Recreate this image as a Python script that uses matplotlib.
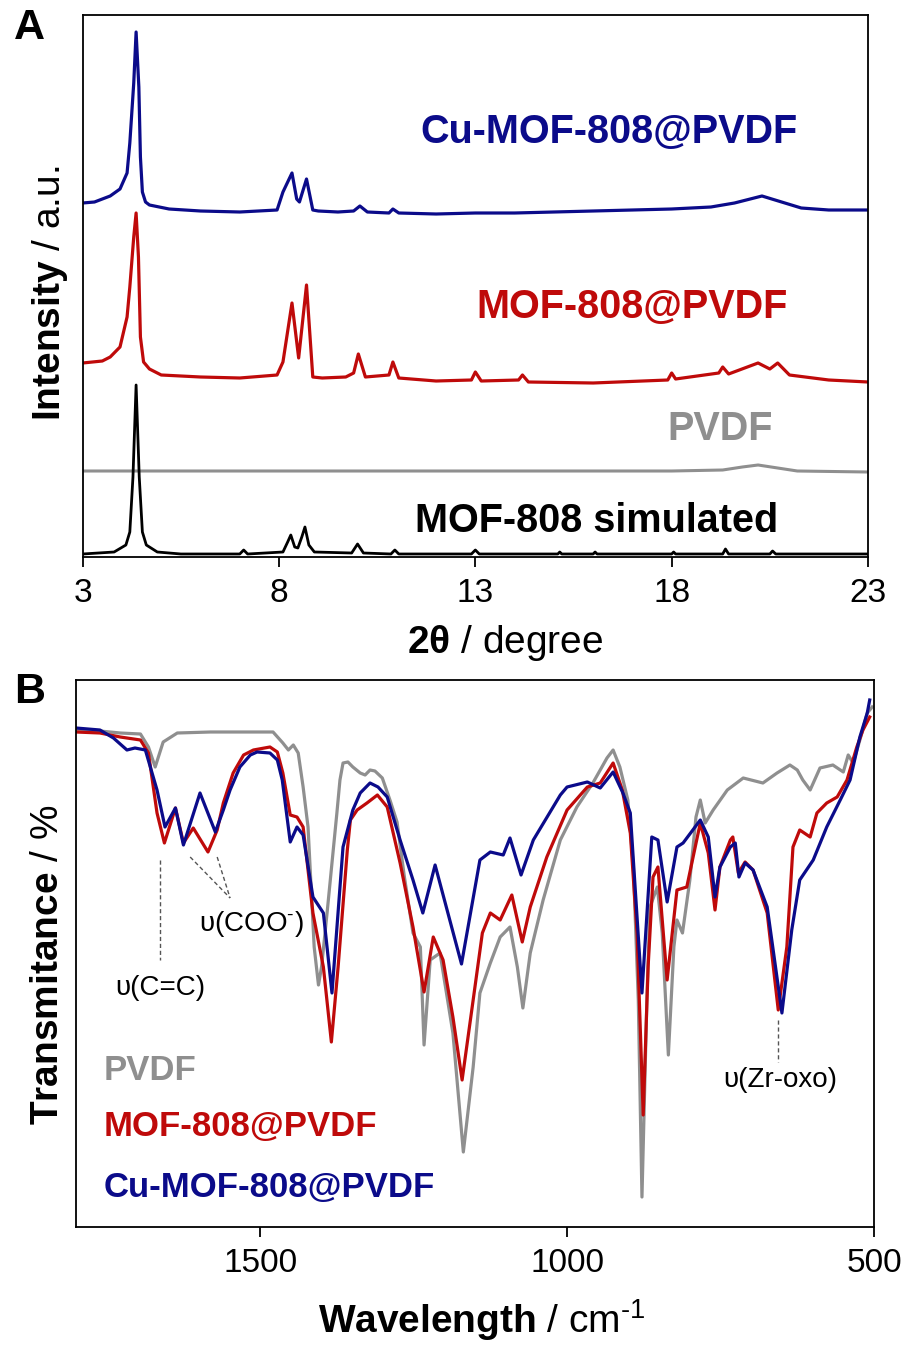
import matplotlib
matplotlib.use("Agg")
from matplotlib import pyplot as plt

plt.rcParams['font.family'] = ['Liberation Sans', 'DejaVu Sans']
plt.rcParams['mathtext.fontset'] = 'custom'
plt.rcParams['mathtext.rm'] = 'Liberation Sans'
plt.rcParams['mathtext.bf'] = 'Liberation Sans:bold'
plt.rcParams['mathtext.it'] = 'Liberation Sans:italic'
plt.rcParams['mathtext.sf'] = 'Liberation Sans'

BLUE = '#0b0b8a'
RED = '#bf0a0a'
GRAY = '#8f8f8f'

# ---- panel A: XRD (2theta, intensity a.u.) ----
xrd_cu_x = [3.0, 3.3, 3.7, 3.95, 4.13, 4.2, 4.3, 4.36, 4.43, 4.47, 4.52, 4.6, 4.7, 5.2, 6.0,
            7.0, 7.95, 8.1, 8.33, 8.45, 8.52, 8.7, 8.86, 9.0, 9.5, 9.9, 10.06, 10.25, 10.8,
            10.9, 11.05, 12.0, 13.0, 14.0, 15.0, 16.0, 17.0, 18.0, 19.0, 19.6, 20.3, 20.8,
            21.3, 22.0, 23.0]
xrd_cu_y = [354, 355, 361, 368, 384, 414, 474, 525, 470, 400, 365, 355, 352, 348, 346,
            345, 347, 365, 384, 358, 355, 378, 347, 346, 345, 346, 351, 345, 344,
            348, 344, 343, 344, 344, 345, 346, 347, 348, 350, 354, 361, 355,
            349, 347, 347]

xrd_mof_x = [3.0, 3.5, 3.7, 3.95, 4.13, 4.2, 4.3, 4.36, 4.42, 4.47, 4.55, 4.7, 5.0, 6.0, 7.0,
             7.95, 8.1, 8.33, 8.5, 8.7, 8.86, 9.1, 9.7, 9.9, 10.02, 10.2, 10.8, 10.9, 11.05,
             12.0, 12.9, 13.0, 13.15, 14.1, 14.2, 14.35, 16.0, 17.9, 18.0, 18.1, 19.2, 19.3,
             19.45, 20.2, 20.5, 20.7, 21.0, 22.0, 23.0]
xrd_mof_y = [194, 196, 200, 210, 240, 270, 320, 344, 300, 220, 195, 188, 182, 180, 179,
             182, 195, 254, 199, 272, 180, 179, 180, 184, 203, 180, 182, 195, 179,
             176, 177, 185, 176, 177, 182, 175, 174, 177, 184, 178, 184, 190,
             183, 194, 188, 194, 182, 177, 175]

xrd_pvdf_x = [3.0, 8.0, 13.0, 18.0, 19.3, 19.8, 20.2, 20.7, 21.2, 23.0]
xrd_pvdf_y = [86, 86, 86, 86, 87, 90, 92, 89, 86, 85]

xrd_sim_x = [3.0, 3.8, 4.1, 4.2, 4.28, 4.36, 4.44, 4.52, 4.62, 4.9, 5.5, 7.0, 7.1, 7.2,
             8.1, 8.22, 8.3, 8.4, 8.48, 8.58, 8.66, 8.76, 8.9, 9.85, 10.0, 10.15, 10.85,
             10.95, 11.05, 12.9, 13.0, 13.1, 15.1, 15.15, 15.2, 16.0, 16.05, 16.1, 18.0,
             18.05, 18.1, 19.3, 19.37, 19.45, 20.5, 20.57, 20.65, 23.0]
xrd_sim_y = [3, 5, 12, 25, 80, 172, 80, 25, 12, 5, 3, 3, 7, 3,
             5, 15, 22, 10, 9, 20, 30, 12, 5, 4, 13, 4, 3,
             7, 3, 3, 7, 3, 3, 5, 3, 3, 5, 3, 3,
             5, 3, 3, 8, 3, 3, 6, 3, 3]

xrd_ticks = [3, 8, 13, 18, 23]

# ---- panel B: IR (wavenumber cm-1, transmittance a.u.) ----
ir_pvdf = [(1800, 497), (1761, 496), (1728, 494), (1695, 493), (1682, 480), (1671, 460),
           (1658, 485), (1635, 494), (1581, 495), (1479, 495), (1463, 484), (1454, 477),
           (1446, 482), (1438, 474), (1430, 440), (1422, 400), (1412, 280), (1405, 242),
           (1400, 260), (1391, 314), (1375, 414), (1370, 447), (1365, 464), (1357, 465),
           (1349, 460), (1337, 454), (1329, 452), (1321, 457), (1313, 456), (1301, 449),
           (1288, 426), (1277, 405), (1265, 350), (1251, 294), (1239, 280),
           (1233, 182), (1223, 267), (1207, 274), (1186, 194), (1169, 75), (1153, 160),
           (1142, 234), (1125, 264), (1109, 290), (1093, 300), (1081, 260), (1072, 219),
           (1060, 274), (1039, 327), (1011, 387), (984, 420), (958, 444), (946, 457),
           (935, 469), (925, 477), (914, 460), (901, 427), (892, 360), (884, 227),
           (878, 30), (870, 227), (865, 320), (853, 340), (845, 294), (835, 172),
           (826, 280), (821, 307), (812, 294), (800, 347), (790, 410), (783, 427),
           (775, 404), (762, 417), (739, 437), (713, 449), (681, 444), (658, 454),
           (637, 462), (625, 457), (616, 447), (604, 437), (588, 459), (567, 462),
           (550, 455), (542, 472), (534, 464), (523, 487), (511, 514), (503, 520)]

ir_mof = [(1800, 495), (1761, 494), (1728, 490), (1695, 487), (1682, 474), (1668, 414),
          (1656, 384), (1638, 419), (1625, 384), (1609, 399), (1585, 375), (1570, 397),
          (1560, 424), (1544, 454), (1527, 472), (1511, 477), (1484, 480), (1472, 475),
          (1463, 454), (1451, 412), (1440, 410), (1430, 400), (1414, 314), (1397, 260),
          (1384, 185), (1373, 260), (1358, 377), (1353, 407), (1342, 417), (1326, 424),
          (1309, 432), (1293, 420), (1272, 364),
          (1251, 300), (1233, 235), (1218, 290), (1202, 267), (1186, 210), (1171, 147),
          (1153, 227), (1138, 294), (1125, 314), (1109, 307), (1090, 332), (1073, 285),
          (1060, 320), (1033, 370), (1000, 417), (967, 440), (946, 444), (925, 464),
          (910, 437), (897, 394), (886, 294), (876, 112), (868, 260), (860, 350),
          (852, 360), (837, 247), (821, 337), (805, 340), (783, 404), (770, 374),
          (759, 317), (751, 360), (734, 387), (730, 390), (721, 354), (710, 365),
          (697, 357), (674, 314), (656, 217), (642, 280), (632, 380), (621, 397),
          (604, 390), (593, 414), (577, 424), (560, 430), (544, 447), (528, 480),
          (518, 497), (507, 510)]

ir_cu = [(1800, 499), (1761, 497), (1739, 489), (1717, 477), (1704, 479), (1687, 477),
         (1668, 437), (1655, 400), (1638, 419), (1625, 382), (1598, 434), (1573, 395),
         (1560, 417), (1549, 437), (1533, 460), (1516, 472), (1505, 475), (1484, 474),
         (1472, 467), (1464, 447), (1451, 385),
         (1440, 400), (1430, 392), (1414, 330), (1397, 314), (1383, 234), (1365, 380),
         (1349, 417), (1337, 434), (1321, 444), (1308, 440), (1293, 430), (1272, 387),
         (1251, 347), (1235, 314),
         (1215, 362), (1172, 263), (1142, 367), (1125, 375), (1104, 372), (1093, 389),
         (1075, 352), (1055, 387), (1011, 432), (1000, 440), (967, 445), (946, 439),
         (925, 455), (909, 434), (897, 414), (878, 234), (862, 390), (852, 387),
         (837, 325), (821, 380), (811, 384), (783, 407), (770, 390), (759, 330),
         (751, 360), (734, 380), (726, 384), (720, 350), (710, 364), (697, 357),
         (674, 320), (650, 214), (634, 297), (621, 347), (599, 367), (577, 400),
         (555, 427), (539, 447), (523, 490), (511, 514), (507, 527)]

ir_ticks = [1500, 1000, 500]


def fx(px):
    return px / 918.0


def fy(py):
    return 1 - py / 1358.0


fig = plt.figure(figsize=(9.18, 13.58), dpi=100)

# ---------------- panel A ----------------
axA = fig.add_axes([fx(82.7), fy(557), fx(868) - fx(82.7), fy(15) - fy(557)])
axA.plot(xrd_pvdf_x, xrd_pvdf_y, color=GRAY, lw=2.2)
axA.plot(xrd_sim_x, xrd_sim_y, color='black', lw=2.0)
axA.plot(xrd_mof_x, xrd_mof_y, color=RED, lw=2.3)
axA.plot(xrd_cu_x, xrd_cu_y, color=BLUE, lw=2.3)
axA.set_xlim(3, 23)
axA.set_ylim(0, 542)
axA.set_xticks(xrd_ticks)
axA.set_yticks([])

# ---------------- panel B ----------------
axB = fig.add_axes([fx(76), fy(1227), fx(874) - fx(76), fy(680) - fy(1227)])
for series, col in [(ir_pvdf, GRAY), (ir_mof, RED), (ir_cu, BLUE)]:
    xs, ys = zip(*series)
    axB.plot(xs, ys, color=col, lw=2.3, solid_joinstyle='round')
axB.set_xlim(1800, 500)
axB.set_ylim(0, 547)
axB.set_xticks(ir_ticks)
axB.set_yticks([])

for ax in (axA, axB):
    for sp in ax.spines.values():
        sp.set_linewidth(1.3)
    ax.tick_params(axis='x', direction='out', length=7, width=1.3,
                   labelsize=24, pad=8)

# dashed guide lines for band assignments
dash = dict(color='#555555', lw=1.0, ls=(0, (3, 2)))
axB.plot([1663, 1663], [367, 267], **dash)
axB.plot([1614, 1549], [370, 329], **dash)
axB.plot([1570, 1549], [370, 329], **dash)
axB.plot([656, 656], [207, 165], **dash)

# ---------------- texts ----------------
fig.text(fx(14), fy(8), 'A', fontsize=31, fontweight='bold', va='top', ha='left')
fig.text(fx(14), fy(672), 'B', fontsize=31, fontweight='bold', va='top', ha='left')

fig.text(fx(420), fy(143), 'Cu-MOF-808@PVDF', color=BLUE, fontsize=28.5,
         fontweight='bold', va='baseline')
fig.text(fx(476), fy(318), 'MOF-808@PVDF', color=RED, fontsize=28.5,
         fontweight='bold', va='baseline')
fig.text(fx(667), fy(440), 'PVDF', color=GRAY, fontsize=28.5,
         fontweight='bold', va='baseline')
fig.text(fx(415), fy(532), 'MOF-808 simulated', color='black', fontsize=28.5,
         fontweight='bold', va='baseline')

fig.text(fx(505), fy(643), r'$\mathbf{2θ}$ / degree', fontsize=28,
         ha='center', va='center')
fig.text(fx(50), fy(293), r'$\mathbf{Intensity}$ / a.u.', fontsize=28,
         rotation=90, ha='center', va='center')

fig.text(fx(104), fy(1080), 'PVDF', color=GRAY, fontsize=25,
         fontweight='bold', va='baseline')
fig.text(fx(104), fy(1136), 'MOF-808@PVDF', color=RED, fontsize=25,
         fontweight='bold', va='baseline')
fig.text(fx(104), fy(1197), 'Cu-MOF-808@PVDF', color=BLUE, fontsize=25,
         fontweight='bold', va='baseline')

fig.text(fx(160), fy(988), 'υ(C=C)', fontsize=20, ha='center', va='center')
fig.text(fx(251), fy(924), r'υ(COO$^{\text{-}}$)', fontsize=20,
         ha='center', va='center')
fig.text(fx(780), fy(1080), 'υ(Zr-oxo)', fontsize=20, ha='center', va='center')

fig.text(fx(482), fy(1320), r'$\mathbf{Wavelength}$ / cm$^{\text{-1}}$',
         fontsize=28, ha='center', va='center')
fig.text(fx(48), fy(965), r'$\mathbf{Transmitance}$ / %', fontsize=28,
         rotation=90, ha='center', va='center')

fig.savefig('out.png', dpi=100)
